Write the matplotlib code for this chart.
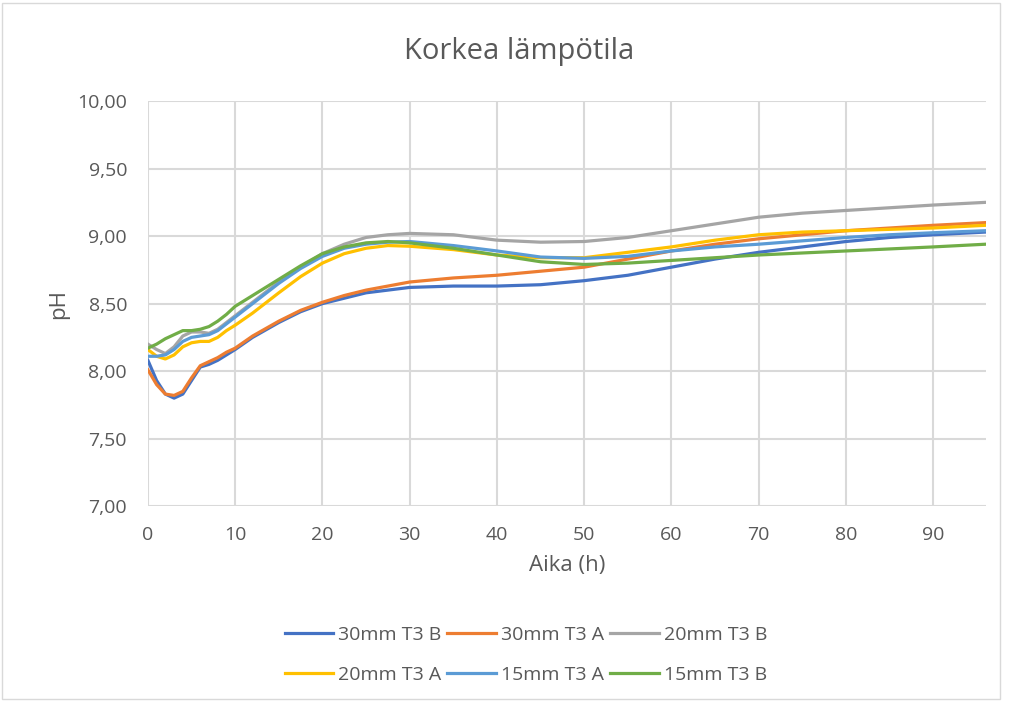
import matplotlib
matplotlib.use("Agg")
import matplotlib.pyplot as plt
from matplotlib.ticker import FuncFormatter
from matplotlib.patches import Rectangle

plt.rcParams['font.family'] = ['Open Sans', 'DejaVu Sans']

# aika (h)
t = [0, 1, 2, 3, 4, 5, 6, 7, 8, 9, 10, 12, 15, 17.5, 20, 22.5, 25, 27.5, 30, 35,
     40, 45, 50, 55, 60, 65, 70, 75, 80, 85, 90, 96]

ph_30_b = [8.08, 7.93, 7.83, 7.80, 7.83, 7.93, 8.03, 8.05, 8.08, 8.12, 8.16, 8.25, 8.36, 8.44, 8.50, 8.54,
           8.58, 8.60, 8.62, 8.63, 8.63, 8.64, 8.67, 8.71, 8.77, 8.83, 8.88, 8.92, 8.96, 8.99, 9.01, 9.03]
ph_30_a = [8.01, 7.90, 7.83, 7.82, 7.85, 7.95, 8.04, 8.07, 8.10, 8.14, 8.17, 8.26, 8.37, 8.45, 8.51, 8.56,
           8.60, 8.63, 8.66, 8.69, 8.71, 8.74, 8.77, 8.83, 8.89, 8.94, 8.98, 9.01, 9.04, 9.06, 9.08, 9.10]
ph_20_b = [8.20, 8.16, 8.13, 8.18, 8.26, 8.29, 8.29, 8.28, 8.31, 8.36, 8.41, 8.51, 8.66, 8.77, 8.87, 8.94,
           8.99, 9.01, 9.02, 9.01, 8.97, 8.955, 8.96, 8.99, 9.04, 9.09, 9.14, 9.17, 9.19, 9.21, 9.23, 9.25]
ph_20_a = [8.16, 8.11, 8.09, 8.12, 8.18, 8.21, 8.22, 8.22, 8.25, 8.30, 8.34, 8.43, 8.58, 8.70, 8.80, 8.87,
           8.91, 8.93, 8.925, 8.90, 8.86, 8.84, 8.84, 8.88, 8.92, 8.97, 9.01, 9.03, 9.04, 9.05, 9.06, 9.08]
ph_15_a = [8.11, 8.11, 8.12, 8.16, 8.22, 8.25, 8.26, 8.27, 8.30, 8.35, 8.40, 8.50, 8.65, 8.76, 8.85, 8.91,
           8.94, 8.955, 8.96, 8.93, 8.89, 8.845, 8.835, 8.85, 8.89, 8.92, 8.94, 8.965, 8.99, 9.01, 9.025, 9.04]
ph_15_b = [8.17, 8.20, 8.24, 8.27, 8.30, 8.30, 8.31, 8.33, 8.37, 8.42, 8.48, 8.56, 8.68, 8.78, 8.87, 8.92,
           8.95, 8.96, 8.95, 8.91, 8.86, 8.81, 8.79, 8.80, 8.82, 8.84, 8.86, 8.875, 8.89, 8.905, 8.92, 8.94]

fig = plt.figure(figsize=(10.13, 7.02), dpi=100)
ax = fig.add_axes([0.146, 0.279, 0.827, 0.577])

ax.plot(t, ph_30_b, color="#4472C4", lw=2.3, label="30mm T3 B")
ax.plot(t, ph_30_a, color="#ED7D31", lw=2.3, label="30mm T3 A")
ax.plot(t, ph_20_b, color="#A5A5A5", lw=2.3, label="20mm T3 B")
ax.plot(t, ph_20_a, color="#FFC000", lw=2.3, label="20mm T3 A")
ax.plot(t, ph_15_a, color="#5B9BD5", lw=2.3, label="15mm T3 A")
ax.plot(t, ph_15_b, color="#70AD47", lw=2.3, label="15mm T3 B")

ax.set_xlim(0, 96)
ax.set_ylim(7, 10)
ax.set_xticks(range(0, 91, 10))
ax.set_yticks([7, 7.5, 8, 8.5, 9, 9.5, 10])
ax.yaxis.set_major_formatter(FuncFormatter(lambda v, p: f"{v:.2f}".replace(".", ",")))
ax.grid(True, color="#d9d9d9", lw=1.5)
ax.set_axisbelow(True)
for s in ax.spines.values():
    s.set_visible(False)
ax.tick_params(length=0, labelsize=14, colors="#595959")
ax.tick_params(axis="y", pad=15)
ax.tick_params(axis="x", pad=14)

ax.set_xlabel("Aika (h)", fontsize=16, color="#595959", labelpad=8)
ax.set_ylabel("pH", fontsize=16, color="#595959", labelpad=6)
fig.text(0.512, 0.926, "Korkea lämpötila", ha="center", va="center", fontsize=21, color="#595959")

# rivijärjestys legendassa
h, l = ax.get_legend_handles_labels()
order = [0, 3, 1, 4, 2, 5]
fig.legend([h[i] for i in order], [l[i] for i in order], loc="center",
           bbox_to_anchor=(0.519, 0.067), ncol=3, frameon=False, fontsize=14,
           labelcolor="#595959", handlelength=2.5, handletextpad=0.26, columnspacing=0.3,
           labelspacing=1.12)

fig.patches.append(Rectangle((0.002, 0.004), 0.985, 0.992, transform=fig.transFigure,
                             fill=False, edgecolor="#d9d9d9", lw=1))

fig.savefig("out.png", dpi=100)
